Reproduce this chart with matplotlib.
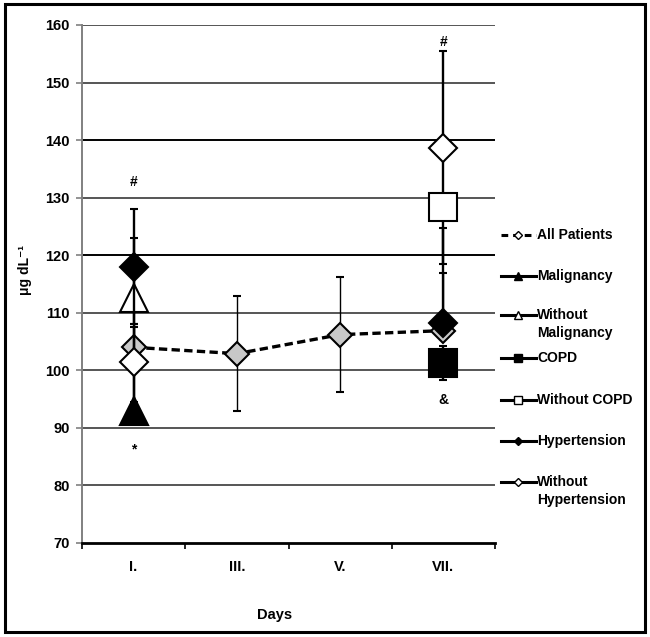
import numpy as np
import matplotlib
matplotlib.use('Agg')
import matplotlib.pyplot as plt
from matplotlib.lines import Line2D
from matplotlib.patches import Rectangle

nan = np.nan

# Data (ug/dL), days I, III, V, VII
days = ['I.', 'III.', 'V.', 'VII.']
x = np.arange(1, 5)

all_patients = [104.0, 102.9, 106.2, 106.9]
all_lo = [4, 10, 10, 0]
all_hi = [4, 10, 10, 10]

malignancy = [93.0, nan, nan, nan]
mal_lo = [0, 0, 0, 0]
mal_hi = [7, 0, 0, 0]

without_malignancy = [112.5, nan, nan, nan]
wmal_lo = [10.5, 0, 0, 0]
wmal_hi = [10.5, 0, 0, 0]

copd = [nan, nan, nan, 101.3]
copd_lo = [0, 0, 0, 3]
copd_hi = [0, 0, 0, 3]

without_copd = [nan, nan, nan, 128.4]
wcopd_lo = [0, 0, 0, 10]
wcopd_hi = [0, 0, 0, 10]

hypertension = [118.0, nan, nan, 108.2]
hyp_lo = [10, 0, 0, 0]
hyp_hi = [10, 0, 0, 16.5]

without_hypertension = [101.5, nan, nan, 138.6]
whyp_lo = [7, 0, 0, 0]
whyp_hi = [6, 0, 0, 16.8]

# significance marks
marks = ['#', '*', '#', '&']
mark_x = [1, 1, 4, 4]
mark_y = [132.7, 86.2, 157.0, 94.8]

plt.rcParams['font.family'] = ['Liberation Sans', 'DejaVu Sans']
plt.rcParams['font.weight'] = 'bold'

W, H = 650, 637
fig = plt.figure(figsize=(W / 100, H / 100), dpi=100)

def fx(px):
    return px / W

def fy(py):
    return 1 - py / H

ax = fig.add_axes([fx(82), fy(543), fx(495) - fx(82), fy(25) - fy(543)])

# series: label, values, errors, marker, face, size, bar width
series = [
    ('All Patients', all_patients, all_lo, all_hi, 'D', '#c8c8c8', 12, 1.0),
    ('Malignancy', malignancy, mal_lo, mal_hi, '^', 'black', 20, 1.7),
    ('Without\nMalignancy', without_malignancy, wmal_lo, wmal_hi, '^', 'white', 20, 1.7),
    ('COPD', copd, copd_lo, copd_hi, 's', 'black', 20, 1.7),
    ('Without COPD', without_copd, wcopd_lo, wcopd_hi, 's', 'white', 20, 1.7),
    ('Hypertension', hypertension, hyp_lo, hyp_hi, 'D', 'black', 14.5, 1.7),
    ('Without\nHypertension', without_hypertension, whyp_lo, whyp_hi, 'D', 'white', 14.5, 1.7),
]

for i, (name, vals, lo, hi, mk, fc, ms, elw) in enumerate(series):
    vals = np.array(vals)
    ls = (0, (2.5, 1.3)) if i == 0 else 'none'
    ax.errorbar(x, vals, yerr=[lo, hi], fmt=mk, linestyle=ls, lw=2.4,
                color='black', mfc=fc, mec='black', mew=1.5, ms=ms,
                ecolor='black', elinewidth=elw, capsize=3, capthick=elw,
                zorder=3 + i)

for m, mx, my in zip(marks, mark_x, mark_y):
    ax.text(mx, my, m, ha='center', va='center', fontsize=10,
            fontweight='bold', zorder=20)

ax.set_xlim(0.5, 4.5)
ax.set_ylim(70, 160)
ax.set_xticks(x)
ax.set_xticklabels(days)
ax.set_xticks(np.arange(0.5, 4.6, 1), minor=True)
ax.tick_params(axis='x', which='major', length=0, pad=12, labelsize=10.5)
ax.tick_params(axis='x', which='minor', length=4, width=1.2, direction='out')
ax.set_yticks(np.arange(70, 161, 10))
ax.tick_params(axis='y', length=4, width=1.2, color='#808080', pad=5,
               labelsize=10.5)

ax.grid(axis='y', color='#555555', lw=1.4)
for tick, gl in zip(ax.get_yticks(), ax.get_ygridlines()):
    if tick in (120, 140):
        gl.set_color('black')
    if tick == 70:
        gl.set_visible(False)
ax.set_axisbelow(True)

for s in ['top', 'right']:
    ax.spines[s].set_visible(False)
ax.spines['left'].set_color('#808080')
ax.spines['left'].set_linewidth(1.4)
ax.spines['bottom'].set_linewidth(2)

fig.text(fx(25), fy(270), 'μg dL⁻¹', rotation=90, ha='center', va='center',
         fontsize=10, fontweight='bold')
fig.text(fx(275), fy(615), 'Days', ha='center', va='center',
         fontsize=10.5, fontweight='bold')

# legend drawn at the right, handle aligned with first text line
leg_y = [235, 276, 315, 358, 400, 441, 482]
for (name, vals, lo, hi, mk, fc, ms, elw), ly in zip(series, leg_y):
    ls = (0, (2.2, 1.6)) if name == 'All Patients' else '-'
    fig.add_artist(Line2D([fx(501), fx(536)], [fy(ly), fy(ly)], lw=2.2,
                          color='black', linestyle=ls,
                          transform=fig.transFigure))
    face = 'white' if fc == '#c8c8c8' else fc
    fig.add_artist(Line2D([fx(518)], [fy(ly)], marker=mk,
                          ms=4.5 if mk == 'D' else 5.5,
                          mfc=face, mec='black', mew=1.0, linestyle='none',
                          transform=fig.transFigure))
    for j, line in enumerate(name.split('\n')):
        fig.text(fx(537), fy(ly + 18 * j), line, ha='left', va='center',
                 fontsize=10, fontweight='bold')

fig.add_artist(Rectangle((fx(5), fy(632)), fx(645) - fx(5), fy(4) - fy(632),
                         fill=False, lw=2.2, ec='black',
                         transform=fig.transFigure))

fig.savefig('out.png', dpi=100, facecolor='white')
